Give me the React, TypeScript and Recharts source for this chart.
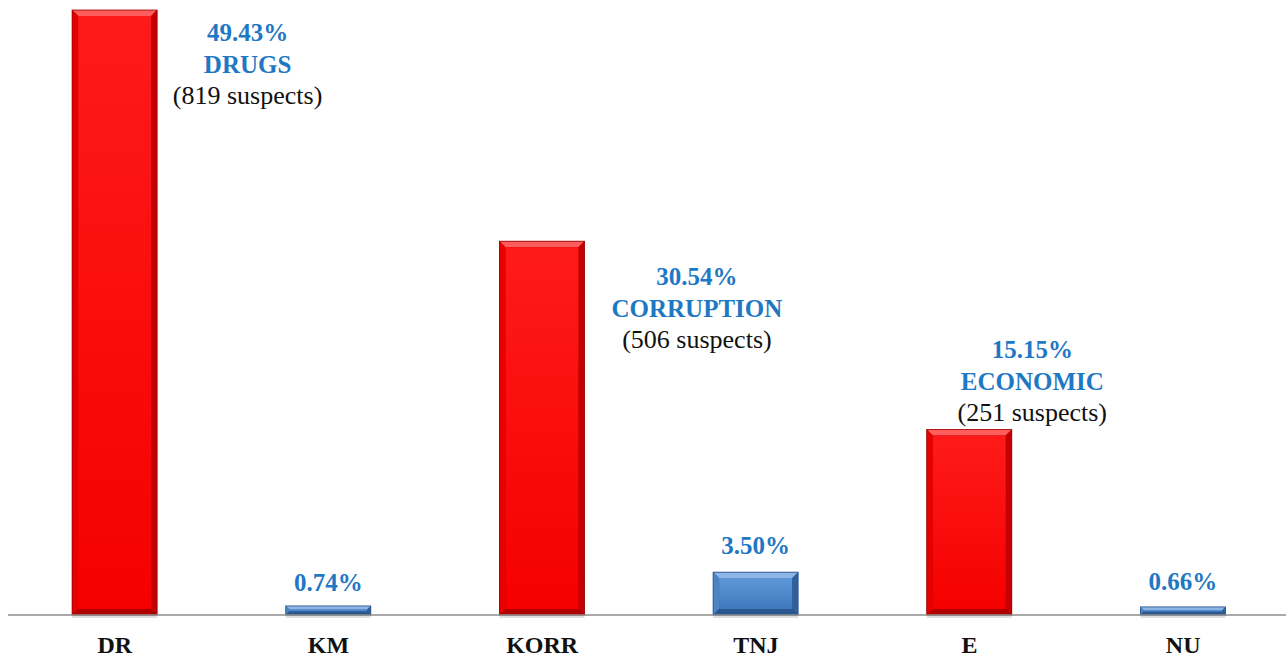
import React from 'react';
import { BarChart, Bar, XAxis, YAxis, Cell, LabelList } from 'recharts';

// categories and values
const categories = ['DR', 'KM', 'KORR', 'TNJ', 'E', 'NU'];
const shares = [49.43, 0.74, 30.54, 3.5, 15.15, 0.66];
const shareLabels = ['49.43%', '0.74%', '30.54%', '3.50%', '15.15%', '0.66%'];
const groupNames = ['DRUGS', '', 'CORRUPTION', '', 'ECONOMIC', ''];
const suspects = [819, null, 506, null, 251, null];

// label placement (offset from bar centre / bar top) and bar styles
const labelDx = [133, 0, 155, 0, 63, 0];
const labelDy = [31, -15, 44, -18, -72, -17];
const barKinds = ['red', 'blue', 'red', 'blue', 'red', 'blue'];

const FONT = "'Liberation Serif', 'Times New Roman', serif";
const BLUE_TEXT = '#1f78c4';

const palette: any = {
  red: { edge: '#9a0000', top: '#ff5c5c', left: '#e60000', right: '#c40000', bottom: '#b00000', main: 'url(#redFill)' },
  blue: { edge: '#25508a', top: '#8cb6e8', left: '#4d84c4', right: '#2f609c', bottom: '#2b5791', main: 'url(#blueFill)' },
};

const chartData = categories.map((name, i) => ({ name, share: shares[i] }));

function BevelBar(props: any) {
  const { x, y, width, height, index } = props;
  if (!height || height <= 0) return null;
  const c = palette[barKinds[index]];
  const b = Math.min(6, height / 2.5);
  const x2 = x + width;
  const y2 = y + height;
  return (
    <g>
      <rect x={x} y={y2 - 1} width={width} height={4} fill="#000" opacity={0.12} />
      <rect x={x} y={y} width={width} height={height} fill={c.edge} />
      <polygon points={`${x},${y} ${x2},${y} ${x2 - b},${y + b} ${x + b},${y + b}`} fill={c.top} />
      <polygon points={`${x},${y} ${x + b},${y + b} ${x + b},${y2 - b} ${x},${y2}`} fill={c.left} />
      <polygon points={`${x2},${y} ${x2},${y2} ${x2 - b},${y2 - b} ${x2 - b},${y + b}`} fill={c.right} />
      <polygon points={`${x},${y2} ${x + b},${y2 - b} ${x2 - b},${y2 - b} ${x2},${y2}`} fill={c.bottom} />
      <rect x={x + b} y={y + b} width={width - 2 * b} height={height - 2 * b} fill={c.main} />
      <rect x={x} y={y} width={width} height={height} fill="none" stroke={c.edge} strokeWidth={0.8} />
    </g>
  );
}

function ShareLabel(props: any) {
  const { x, y, width, index } = props;
  const cx = x + width / 2 + labelDx[index];
  const base = y + labelDy[index];
  const bold = { fontFamily: FONT, fontSize: 25, fontWeight: 'bold' as const, fill: BLUE_TEXT };
  return (
    <g>
      <text x={cx} y={base} textAnchor="middle" style={bold}>
        {shareLabels[index]}
      </text>
      {groupNames[index] && (
        <text x={cx} y={base + 32} textAnchor="middle" style={bold}>
          {groupNames[index]}
        </text>
      )}
      {suspects[index] != null && (
        <text x={cx} y={base + 63} textAnchor="middle" style={{ fontFamily: FONT, fontSize: 26, fill: '#111' }}>
          {`(${suspects[index]} suspects)`}
        </text>
      )}
    </g>
  );
}

function CategoryTick(props: any) {
  const { x, y, payload } = props;
  return (
    <text
      x={x}
      y={y + 38}
      textAnchor="middle"
      style={{ fontFamily: FONT, fontSize: 24, fontWeight: 'bold', fill: '#111' }}
    >
      {payload.value}
    </text>
  );
}

export default function App() {
  return (
    <div style={{ position: 'absolute', left: 0, top: 0, width: 1286, height: 657, overflow: 'hidden', background: '#fff' }}>
      <BarChart
        width={1290}
        height={657}
        data={chartData}
        margin={{ top: 10, right: 0, left: 8, bottom: 0 }}
        barCategoryGap="30%"
      >
        <defs>
          <linearGradient id="redFill" x1="0" y1="0" x2="0" y2="1">
            <stop offset="0%" stopColor="#ff1a1a" />
            <stop offset="100%" stopColor="#f50000" />
          </linearGradient>
          <linearGradient id="blueFill" x1="0" y1="0" x2="0" y2="1">
            <stop offset="0%" stopColor="#5f98d8" />
            <stop offset="100%" stopColor="#3f78bd" />
          </linearGradient>
        </defs>
        <XAxis
          dataKey="name"
          height={42}
          tickLine={false}
          tickSize={0}
          tickMargin={0}
          axisLine={{ stroke: '#8c8c8c', strokeWidth: 1.5 }}
          tick={<CategoryTick />}
          interval={0}
        />
        <YAxis hide domain={[0, 49.43]} />
        <Bar dataKey="share" shape={<BevelBar />} isAnimationActive={false}>
          {chartData.map((d, i) => (
            <Cell key={d.name} />
          ))}
          <LabelList dataKey="share" content={<ShareLabel />} />
        </Bar>
      </BarChart>
    </div>
  );
}
